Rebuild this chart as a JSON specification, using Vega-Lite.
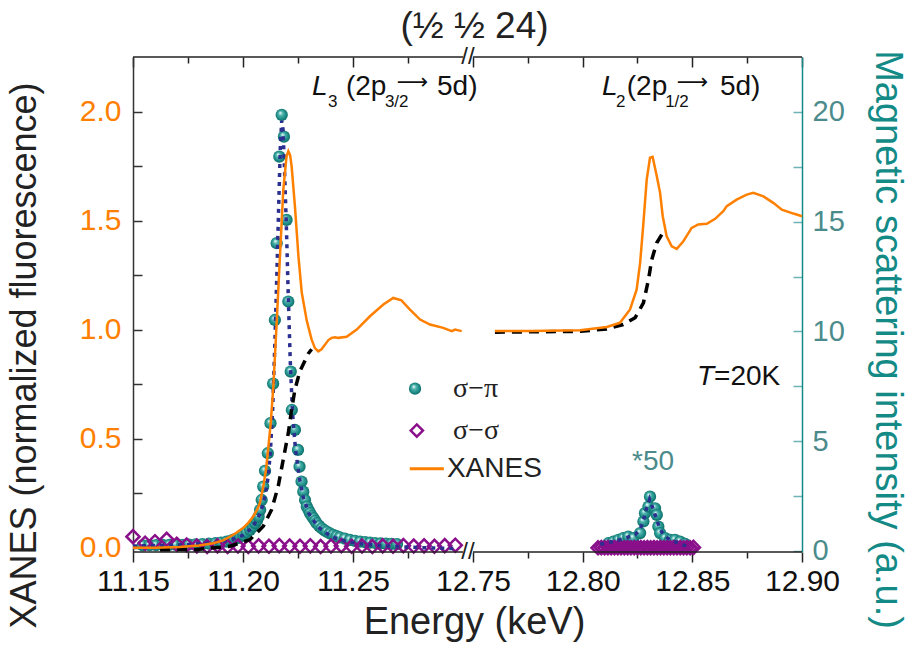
{
  "$schema": "https://vega.github.io/schema/vega-lite/v6.json",
  "width": 669,
  "height": 495,
  "autosize": {"type": "none"},
  "padding": {"left": 133, "top": 57, "right": 117, "bottom": 96},
  "background": "white",
  "config": {"view": {"stroke": null}, "font": "Liberation Sans", "axis": {"grid": false}},
  "title": {"text": "(½ ½ 24)", "fontSize": 37, "fontWeight": "normal", "color": "#222", "offset": -1, "dx": 7, "font": "Liberation Sans"},
  "datasets": {
    "xanes": [
      {"e": 11.150, "v": 0.0, "seg": "a"}, {"e": 11.160, "v": 0.0, "seg": "a"}, {"e": 11.171, "v": 0.003, "seg": "a"},
      {"e": 11.180, "v": 0.01, "seg": "a"}, {"e": 11.1865, "v": 0.02, "seg": "a"}, {"e": 11.191, "v": 0.033, "seg": "a"},
      {"e": 11.194, "v": 0.05, "seg": "a"}, {"e": 11.197, "v": 0.068, "seg": "a"}, {"e": 11.200, "v": 0.09, "seg": "a"},
      {"e": 11.2025, "v": 0.115, "seg": "a"}, {"e": 11.2047, "v": 0.144, "seg": "a"}, {"e": 11.2065, "v": 0.175, "seg": "a"},
      {"e": 11.2077, "v": 0.205, "seg": "a"}, {"e": 11.2092, "v": 0.28, "seg": "a"}, {"e": 11.2105, "v": 0.36, "seg": "a"},
      {"e": 11.2115, "v": 0.46, "seg": "a"}, {"e": 11.2126, "v": 0.57, "seg": "a"}, {"e": 11.2138, "v": 0.74, "seg": "a"},
      {"e": 11.2153, "v": 1.03, "seg": "a"}, {"e": 11.2168, "v": 1.336, "seg": "a"}, {"e": 11.2183, "v": 1.64, "seg": "a"},
      {"e": 11.2198, "v": 1.795, "seg": "a"}, {"e": 11.2206, "v": 1.818, "seg": "a"}, {"e": 11.2214, "v": 1.80, "seg": "a"},
      {"e": 11.2221, "v": 1.75, "seg": "a"}, {"e": 11.2236, "v": 1.566, "seg": "a"}, {"e": 11.2252, "v": 1.336, "seg": "a"},
      {"e": 11.2267, "v": 1.17, "seg": "a"}, {"e": 11.229, "v": 1.04, "seg": "a"}, {"e": 11.2312, "v": 0.954, "seg": "a"},
      {"e": 11.2327, "v": 0.915, "seg": "a"}, {"e": 11.2342, "v": 0.90, "seg": "a"}, {"e": 11.2357, "v": 0.91, "seg": "a"},
      {"e": 11.2373, "v": 0.931, "seg": "a"}, {"e": 11.2388, "v": 0.952, "seg": "a"}, {"e": 11.2403, "v": 0.962, "seg": "a"},
      {"e": 11.2418, "v": 0.965, "seg": "a"}, {"e": 11.2433, "v": 0.962, "seg": "a"}, {"e": 11.2471, "v": 0.967, "seg": "a"},
      {"e": 11.2517, "v": 1.0, "seg": "a"}, {"e": 11.2577, "v": 1.061, "seg": "a"}, {"e": 11.2638, "v": 1.115, "seg": "a"},
      {"e": 11.2683, "v": 1.145, "seg": "a"}, {"e": 11.272, "v": 1.134, "seg": "a"}, {"e": 11.2759, "v": 1.092, "seg": "a"},
      {"e": 11.2805, "v": 1.046, "seg": "a"}, {"e": 11.285, "v": 1.023, "seg": "a"}, {"e": 11.291, "v": 1.008, "seg": "a"},
      {"e": 11.2949, "v": 0.993, "seg": "a"}, {"e": 11.2964, "v": 1.0, "seg": "a"}, {"e": 11.2994, "v": 0.993, "seg": "a"},
      {"e": 12.760, "v": 0.993, "seg": "b"}, {"e": 12.776, "v": 0.993, "seg": "b"}, {"e": 12.7988, "v": 0.997, "seg": "b"},
      {"e": 12.811, "v": 1.012, "seg": "b"}, {"e": 12.817, "v": 1.031, "seg": "b"}, {"e": 12.8216, "v": 1.092, "seg": "b"},
      {"e": 12.8246, "v": 1.183, "seg": "b"}, {"e": 12.8262, "v": 1.306, "seg": "b"}, {"e": 12.8277, "v": 1.489, "seg": "b"},
      {"e": 12.8292, "v": 1.688, "seg": "b"}, {"e": 12.8307, "v": 1.788, "seg": "b"}, {"e": 12.8319, "v": 1.792, "seg": "b"},
      {"e": 12.8338, "v": 1.703, "seg": "b"}, {"e": 12.8353, "v": 1.627, "seg": "b"}, {"e": 12.8365, "v": 1.52, "seg": "b"},
      {"e": 12.8383, "v": 1.428, "seg": "b"}, {"e": 12.8406, "v": 1.382, "seg": "b"}, {"e": 12.8429, "v": 1.37, "seg": "b"},
      {"e": 12.8459, "v": 1.405, "seg": "b"}, {"e": 12.8497, "v": 1.466, "seg": "b"}, {"e": 12.8527, "v": 1.482, "seg": "b"},
      {"e": 12.8566, "v": 1.485, "seg": "b"}, {"e": 12.8604, "v": 1.508, "seg": "b"}, {"e": 12.8641, "v": 1.543, "seg": "b"},
      {"e": 12.8657, "v": 1.566, "seg": "b"}, {"e": 12.8702, "v": 1.596, "seg": "b"}, {"e": 12.8748, "v": 1.619, "seg": "b"},
      {"e": 12.8778, "v": 1.627, "seg": "b"}, {"e": 12.8824, "v": 1.611, "seg": "b"}, {"e": 12.8869, "v": 1.581, "seg": "b"},
      {"e": 12.8908, "v": 1.55, "seg": "b"}, {"e": 12.8961, "v": 1.532, "seg": "b"}, {"e": 12.900, "v": 1.52, "seg": "b"}
    ],
    "step": [
      {"e": 11.1623, "v": -0.01, "seg": "a"}, {"e": 11.179, "v": -0.008, "seg": "a"}, {"e": 11.194, "v": 0.006, "seg": "a"},
      {"e": 11.2032, "v": 0.037, "seg": "a"}, {"e": 11.2092, "v": 0.098, "seg": "a"}, {"e": 11.213, "v": 0.174, "seg": "a"},
      {"e": 11.216, "v": 0.281, "seg": "a"}, {"e": 11.2183, "v": 0.404, "seg": "a"}, {"e": 11.2206, "v": 0.526, "seg": "a"},
      {"e": 11.2221, "v": 0.633, "seg": "a"}, {"e": 11.2236, "v": 0.725, "seg": "a"}, {"e": 11.2259, "v": 0.81, "seg": "a"},
      {"e": 11.2297, "v": 0.89, "seg": "a"}, {"e": 11.2312, "v": 0.91, "seg": "a"},
      {"e": 12.760, "v": 0.988, "seg": "b"}, {"e": 12.780, "v": 0.99, "seg": "b"}, {"e": 12.799, "v": 0.992, "seg": "b"},
      {"e": 12.811, "v": 1.003, "seg": "b"}, {"e": 12.8185, "v": 1.023, "seg": "b"}, {"e": 12.8239, "v": 1.054, "seg": "b"},
      {"e": 12.8277, "v": 1.122, "seg": "b"}, {"e": 12.830, "v": 1.229, "seg": "b"}, {"e": 12.8315, "v": 1.321, "seg": "b"},
      {"e": 12.8338, "v": 1.398, "seg": "b"}, {"e": 12.8376, "v": 1.462, "seg": "b"}
    ],
    "fit": [
      {"e": 11.150, "v": 0.22, "seg": "a"}, {"e": 11.170, "v": 0.27, "seg": "a"}, {"e": 11.185, "v": 0.35, "seg": "a"},
      {"e": 11.195, "v": 0.52, "seg": "a"}, {"e": 11.200, "v": 0.72, "seg": "a"}, {"e": 11.2035, "v": 1.0, "seg": "a"},
      {"e": 11.206, "v": 1.35, "seg": "a"}, {"e": 11.208, "v": 1.75, "seg": "a"}, {"e": 11.210, "v": 2.5, "seg": "a"},
      {"e": 11.2115, "v": 3.4, "seg": "a"}, {"e": 11.2125, "v": 4.6, "seg": "a"}, {"e": 11.2135, "v": 6.5, "seg": "a"},
      {"e": 11.2145, "v": 9.5, "seg": "a"}, {"e": 11.2155, "v": 13.0, "seg": "a"}, {"e": 11.2163, "v": 16.0, "seg": "a"},
      {"e": 11.2170, "v": 18.5, "seg": "a"}, {"e": 11.2176, "v": 19.6, "seg": "a"}, {"e": 11.2182, "v": 19.2, "seg": "a"},
      {"e": 11.2190, "v": 17.0, "seg": "a"}, {"e": 11.2198, "v": 14.5, "seg": "a"}, {"e": 11.2206, "v": 11.5, "seg": "a"},
      {"e": 11.2215, "v": 8.6, "seg": "a"}, {"e": 11.2225, "v": 6.3, "seg": "a"}, {"e": 11.2238, "v": 4.7, "seg": "a"},
      {"e": 11.2255, "v": 3.4, "seg": "a"}, {"e": 11.2275, "v": 2.4, "seg": "a"}, {"e": 11.230, "v": 1.7, "seg": "a"},
      {"e": 11.234, "v": 1.1, "seg": "a"}, {"e": 11.240, "v": 0.65, "seg": "a"}, {"e": 11.248, "v": 0.4, "seg": "a"},
      {"e": 11.260, "v": 0.25, "seg": "a"}, {"e": 11.275, "v": 0.17, "seg": "a"}, {"e": 11.290, "v": 0.12, "seg": "a"},
      {"e": 11.297, "v": 0.1, "seg": "a"},
      {"e": 12.808, "v": 0.3, "seg": "b"}, {"e": 12.815, "v": 0.45, "seg": "b"}, {"e": 12.820, "v": 0.6, "seg": "b"},
      {"e": 12.824, "v": 0.75, "seg": "b"}, {"e": 12.826, "v": 0.95, "seg": "b"}, {"e": 12.8275, "v": 1.3, "seg": "b"},
      {"e": 12.829, "v": 1.9, "seg": "b"}, {"e": 12.8305, "v": 2.35, "seg": "b"}, {"e": 12.832, "v": 1.95, "seg": "b"},
      {"e": 12.8335, "v": 1.5, "seg": "b"}, {"e": 12.835, "v": 1.05, "seg": "b"}, {"e": 12.837, "v": 0.7, "seg": "b"},
      {"e": 12.840, "v": 0.5, "seg": "b"}, {"e": 12.845, "v": 0.3, "seg": "b"}, {"e": 12.848, "v": 0.2, "seg": "b"}
    ],
    "sp": [
      {"e": 11.1545, "v": 0.25}, {"e": 11.1575, "v": 0.26}, {"e": 11.1605, "v": 0.26}, {"e": 11.1635, "v": 0.27},
      {"e": 11.1665, "v": 0.27}, {"e": 11.1695, "v": 0.27}, {"e": 11.1725, "v": 0.28}, {"e": 11.1755, "v": 0.29},
      {"e": 11.1785, "v": 0.30}, {"e": 11.1815, "v": 0.31}, {"e": 11.1845, "v": 0.33}, {"e": 11.1875, "v": 0.35},
      {"e": 11.1900, "v": 0.38}, {"e": 11.1925, "v": 0.42}, {"e": 11.1945, "v": 0.47}, {"e": 11.1960, "v": 0.53},
      {"e": 11.1975, "v": 0.58}, {"e": 11.1988, "v": 0.65}, {"e": 11.2001, "v": 0.73}, {"e": 11.2016, "v": 0.84},
      {"e": 11.2032, "v": 0.96}, {"e": 11.2045, "v": 1.10}, {"e": 11.2055, "v": 1.26}, {"e": 11.2064, "v": 1.40},
      {"e": 11.2071, "v": 1.56}, {"e": 11.2078, "v": 1.87}, {"e": 11.2085, "v": 2.32}, {"e": 11.2092, "v": 2.93},
      {"e": 11.2100, "v": 3.65}, {"e": 11.2113, "v": 4.45}, {"e": 11.2125, "v": 5.82}, {"e": 11.2137, "v": 7.62},
      {"e": 11.2145, "v": 10.52}, {"e": 11.2153, "v": 14.02}, {"e": 11.2165, "v": 17.96}, {"e": 11.2176, "v": 19.86},
      {"e": 11.2186, "v": 18.87}, {"e": 11.2198, "v": 15.08}, {"e": 11.2206, "v": 11.36}, {"e": 11.2217, "v": 8.17},
      {"e": 11.2222, "v": 6.42}, {"e": 11.2236, "v": 5.51}, {"e": 11.2250, "v": 4.60}, {"e": 11.2257, "v": 3.84},
      {"e": 11.2266, "v": 3.16}, {"e": 11.2274, "v": 2.70}, {"e": 11.2282, "v": 2.32}, {"e": 11.2290, "v": 2.02},
      {"e": 11.2298, "v": 1.86}, {"e": 11.2305, "v": 1.72}, {"e": 11.2312, "v": 1.60}, {"e": 11.2320, "v": 1.49},
      {"e": 11.2328, "v": 1.37}, {"e": 11.2335, "v": 1.26}, {"e": 11.2346, "v": 1.14}, {"e": 11.2358, "v": 1.03},
      {"e": 11.2369, "v": 0.95}, {"e": 11.2380, "v": 0.88}, {"e": 11.2395, "v": 0.80}, {"e": 11.2410, "v": 0.73},
      {"e": 11.2425, "v": 0.67}, {"e": 11.2440, "v": 0.62}, {"e": 11.2463, "v": 0.56}, {"e": 11.2486, "v": 0.50},
      {"e": 11.2509, "v": 0.46}, {"e": 11.2532, "v": 0.42}, {"e": 11.2555, "v": 0.40}, {"e": 11.2577, "v": 0.38},
      {"e": 11.2600, "v": 0.36}, {"e": 11.2625, "v": 0.34}, {"e": 11.2650, "v": 0.33}, {"e": 11.2675, "v": 0.32},
      {"e": 11.2700, "v": 0.31},
      {"e": 12.8117, "v": 0.35}, {"e": 12.8140, "v": 0.42}, {"e": 12.8163, "v": 0.50}, {"e": 12.8185, "v": 0.58},
      {"e": 12.8208, "v": 0.65}, {"e": 12.8231, "v": 0.58}, {"e": 12.8262, "v": 0.81}, {"e": 12.8277, "v": 1.34},
      {"e": 12.8284, "v": 1.72}, {"e": 12.8300, "v": 2.02}, {"e": 12.8307, "v": 2.47}, {"e": 12.8330, "v": 1.94},
      {"e": 12.8338, "v": 1.64}, {"e": 12.8345, "v": 1.11}, {"e": 12.8353, "v": 0.81}, {"e": 12.8376, "v": 0.58},
      {"e": 12.8398, "v": 0.50}, {"e": 12.8421, "v": 0.50}, {"e": 12.8444, "v": 0.42}, {"e": 12.8467, "v": 0.32}
    ],
    "ss": [
      {"e": 11.1500, "v": 0.65}, {"e": 11.1555, "v": 0.35}, {"e": 11.1600, "v": 0.42}, {"e": 11.1653, "v": 0.53},
      {"e": 11.1699, "v": 0.30}, {"e": 11.1744, "v": 0.27}, {"e": 11.1790, "v": 0.22}, {"e": 11.1837, "v": 0.20},
      {"e": 11.1884, "v": 0.23}, {"e": 11.1930, "v": 0.20}, {"e": 11.1977, "v": 0.22}, {"e": 11.2024, "v": 0.20},
      {"e": 11.2071, "v": 0.23}, {"e": 11.2118, "v": 0.21}, {"e": 11.2165, "v": 0.24}, {"e": 11.2212, "v": 0.22},
      {"e": 11.2259, "v": 0.21}, {"e": 11.2306, "v": 0.23}, {"e": 11.2353, "v": 0.20}, {"e": 11.2400, "v": 0.22},
      {"e": 11.2447, "v": 0.24}, {"e": 11.2494, "v": 0.21}, {"e": 11.2541, "v": 0.22}, {"e": 11.2588, "v": 0.20},
      {"e": 11.2635, "v": 0.23}, {"e": 11.2682, "v": 0.21}, {"e": 11.2729, "v": 0.24}, {"e": 11.2776, "v": 0.22},
      {"e": 11.2823, "v": 0.23}, {"e": 11.2870, "v": 0.21}, {"e": 11.2917, "v": 0.24}, {"e": 11.2965, "v": 0.26},
      {"e": 12.8070, "v": 0.14}, {"e": 12.8085, "v": 0.15}, {"e": 12.8100, "v": 0.14}, {"e": 12.8115, "v": 0.15},
      {"e": 12.8130, "v": 0.14}, {"e": 12.8145, "v": 0.15}, {"e": 12.8160, "v": 0.14}, {"e": 12.8175, "v": 0.15},
      {"e": 12.8190, "v": 0.14}, {"e": 12.8205, "v": 0.15}, {"e": 12.8220, "v": 0.14}, {"e": 12.8235, "v": 0.15},
      {"e": 12.8250, "v": 0.14}, {"e": 12.8265, "v": 0.15}, {"e": 12.8280, "v": 0.14}, {"e": 12.8295, "v": 0.15},
      {"e": 12.8310, "v": 0.14}, {"e": 12.8325, "v": 0.15}, {"e": 12.8340, "v": 0.14}, {"e": 12.8355, "v": 0.15},
      {"e": 12.8370, "v": 0.14}, {"e": 12.8385, "v": 0.15}, {"e": 12.8400, "v": 0.14}, {"e": 12.8415, "v": 0.15},
      {"e": 12.8430, "v": 0.14}, {"e": 12.8445, "v": 0.15}, {"e": 12.8460, "v": 0.14}, {"e": 12.8475, "v": 0.15},
      {"e": 12.8490, "v": 0.14}, {"e": 12.8505, "v": 0.16}
    ],
    "frame": [
      {"e": 11.15, "e2": 11.30, "v": -0.02}, {"e": 12.75, "e2": 12.90, "v": -0.02},
      {"e": 11.15, "e2": 11.30, "v": 2.25}, {"e": 12.75, "e2": 12.90, "v": 2.25}
    ],
    "brk": [{"e": 12.025, "v": -0.02, "t": "//"}, {"e": 12.025, "v": 2.25, "t": "//"}],
    "annMain": [
      {"e": 11.2468, "v": 2.078, "t": "(2p"}, {"e": 11.2882, "v": 2.078, "t": "5d)"},
      {"e": 12.8201, "v": 2.078, "t": "(2p"}, {"e": 12.8626, "v": 2.078, "t": "5d)"},
      {"e": 12.8599, "v": 0.748, "t": "=20K"}
    ],
    "annItalic": [
      {"e": 11.2314, "v": 2.078, "t": "L"}, {"e": 12.8088, "v": 2.078, "t": "L"}, {"e": 12.8521, "v": 0.748, "t": "T"}
    ],
    "annSub": [
      {"e": 11.2386, "v": 2.020, "t": "3"}, {"e": 11.2645, "v": 2.020, "t": "3/2"},
      {"e": 12.8152, "v": 2.020, "t": "2"}, {"e": 12.8376, "v": 2.020, "t": "1/2"}
    ],
    "annArrow": [{"e": 11.2770, "v": 2.135, "t": "⟶"}, {"e": 12.8501, "v": 2.135, "t": "⟶"}],
    "annTeal": [{"e": 12.8321, "v": 0.358, "t": "*50"}],
    "legSphere": [{"e": 11.2782, "v": 0.729}],
    "legDiamond": [{"e": 11.2790, "v": 0.537}],
    "legLine": [{"e": 11.2758, "e2": 11.2913, "v": 0.362}],
    "legGreek": [{"e": 11.2955, "v": 0.729, "t": "σ−π"}, {"e": 11.2955, "v": 0.537, "t": "σ−σ"}],
    "legSans": [{"e": 11.2927, "v": 0.362, "t": "XANES"}]
  },
  "layer": [
    {
      "encoding": {
        "x": {
          "field": "e", "type": "quantitative",
          "scale": {"type": "linear", "domain": [11.15, 11.30, 12.75, 12.90], "range": [0, 330, 340, 669], "nice": false, "zero": false},
          "axis": {
            "orient": "top", "values": [11.15, 11.175, 11.2, 11.225, 11.25, 11.275, 12.75, 12.775, 12.8, 12.825, 12.85, 12.875, 12.9],
            "labels": false, "title": null, "domain": false, "tickColor": "#222", "tickWidth": 1.5,
            "tickSize": {"condition": {"test": "round(datum.value*1000) % 50 == 0", "value": -10}, "value": -6}
          }
        },
        "y": {
          "field": "v", "type": "quantitative",
          "scale": {"domain": [-0.05, 22.5], "nice": false, "zero": false},
          "axis": {
            "orient": "right", "values": [0, 2.5, 5, 7.5, 10, 12.5, 15, 17.5, 20],
            "labelExpr": "datum.value % 5 == 0 ? datum.label : ''",
            "labelFontSize": 29, "labelColor": "#4b8b8b", "labelPadding": 19, "labelFlush": false, "labelOverlap": false,
            "tickSize": -9, "tickColor": "#6db3b3", "tickWidth": 1.5,
            "domainColor": "#138a86", "domainWidth": 1.5,
            "title": "Magnetic scattering intensity (a.u.)", "titleFontSize": 38, "titleFontWeight": "normal",
            "titleColor": "#138a86", "titleX": 84, "titleY": 282, "titleBaseline": "middle"
          }
        }
      },
      "layer": [
        {
          "data": {"name": "sp"},
          "mark": {
            "type": "point", "shape": "circle", "filled": true, "size": 150, "opacity": 1, "strokeWidth": 0,
            "fill": {"gradient": "radial", "x1": 0.38, "y1": 0.32, "r1": 0.02, "x2": 0.5, "y2": 0.5, "r2": 0.55,
              "stops": [{"offset": 0, "color": "#f2ffff"}, {"offset": 0.3, "color": "#4fb3ad"}, {"offset": 0.75, "color": "#16857f"}, {"offset": 1, "color": "#0d625e"}]}
          }
        },
        {
          "data": {"name": "ss"},
          "mark": {"type": "point", "shape": "diamond", "filled": false, "stroke": "#8a0f8a", "strokeWidth": 2.5, "size": 170, "opacity": 1}
        },
        {
          "data": {"name": "fit"},
          "mark": {"type": "line", "color": "#2b2f8f", "strokeWidth": 3.5, "strokeDash": [4, 5]},
          "encoding": {"detail": {"field": "seg"}}
        }
      ]
    },
    {
      "encoding": {
        "x": {
          "field": "e", "type": "quantitative",
          "scale": {"type": "linear", "domain": [11.15, 11.30, 12.75, 12.90], "range": [0, 330, 340, 669], "nice": false, "zero": false},
          "axis": {
            "orient": "bottom", "values": [11.15, 11.175, 11.2, 11.225, 11.25, 11.275, 12.75, 12.775, 12.8, 12.825, 12.85, 12.875, 12.9],
            "format": ".2f", "labelExpr": "round(datum.value*1000) % 50 == 0 ? datum.label : ''",
            "labelFontSize": 30, "labelColor": "#111", "labelPadding": 4, "labelFlush": false, "labelOverlap": false,
            "tickColor": "#222", "tickWidth": 1.5,
            "tickSize": {"condition": {"test": "round(datum.value*1000) % 50 == 0", "value": 10}, "value": 6},
            "domain": false,
            "title": "Energy (keV)", "titleFontSize": 38, "titleFontWeight": "normal", "titleColor": "#222",
            "titleX": 341, "titleY": 70, "titleBaseline": "middle"
          }
        },
        "y": {
          "field": "v", "type": "quantitative",
          "scale": {"domain": [-0.02, 2.25], "nice": false, "zero": false},
          "axis": {
            "orient": "left", "values": [0, 0.25, 0.5, 0.75, 1, 1.25, 1.5, 1.75, 2],
            "format": ".1f", "labelExpr": "round(datum.value*100) % 50 == 0 ? datum.label : ''",
            "labelFontSize": 30, "labelColor": "#ff8000", "labelPadding": 21, "labelFlush": false, "labelOverlap": false,
            "tickSize": -9, "tickColor": "#333", "tickWidth": 1.5, "domainColor": "#333", "domainWidth": 1.5,
            "title": "XANES (normalized fluorescence)", "titleFontSize": 36, "titleFontWeight": "normal", "titleColor": "#222",
            "titleX": -109, "titleY": 298, "titleBaseline": "middle"
          }
        }
      },
      "layer": [
        {"data": {"name": "frame"}, "mark": {"type": "rule", "color": "#222", "strokeWidth": 1.5}, "encoding": {"x2": {"field": "e2"}}},
        {"data": {"name": "brk"}, "mark": {"type": "text", "fontSize": 24, "color": "#222", "align": "center", "baseline": "middle"}, "encoding": {"text": {"field": "t"}}},
        {
          "data": {"name": "step"},
          "mark": {"type": "line", "color": "#000", "strokeWidth": 3.5, "strokeDash": [10, 7]},
          "encoding": {"detail": {"field": "seg"}}
        },
        {
          "data": {"name": "xanes"},
          "mark": {"type": "line", "color": "#ff8000", "strokeWidth": 2.5},
          "encoding": {"detail": {"field": "seg"}}
        },
        {
          "data": {"name": "legSphere"},
          "mark": {
            "type": "point", "shape": "circle", "filled": true, "size": 150, "opacity": 1, "strokeWidth": 0,
            "fill": {"gradient": "radial", "x1": 0.38, "y1": 0.32, "r1": 0.02, "x2": 0.5, "y2": 0.5, "r2": 0.55,
              "stops": [{"offset": 0, "color": "#f2ffff"}, {"offset": 0.3, "color": "#4fb3ad"}, {"offset": 0.75, "color": "#16857f"}, {"offset": 1, "color": "#0d625e"}]}
          }
        },
        {"data": {"name": "legDiamond"}, "mark": {"type": "point", "shape": "diamond", "filled": false, "stroke": "#8a0f8a", "strokeWidth": 2.5, "size": 150, "opacity": 1}},
        {"data": {"name": "legLine"}, "mark": {"type": "rule", "color": "#ff8000", "strokeWidth": 3}, "encoding": {"x2": {"field": "e2"}}},
        {"data": {"name": "legGreek"}, "mark": {"type": "text", "font": "Liberation Serif", "fontSize": 28, "color": "#222", "align": "left", "baseline": "middle"}, "encoding": {"text": {"field": "t"}}},
        {"data": {"name": "legSans"}, "mark": {"type": "text", "fontSize": 28, "color": "#222", "align": "left", "baseline": "middle"}, "encoding": {"text": {"field": "t"}}},
        {"data": {"name": "annMain"}, "mark": {"type": "text", "fontSize": 28, "color": "#111", "align": "left", "baseline": "alphabetic"}, "encoding": {"text": {"field": "t"}}},
        {"data": {"name": "annItalic"}, "mark": {"type": "text", "fontSize": 28, "fontStyle": "italic", "color": "#111", "align": "left", "baseline": "alphabetic"}, "encoding": {"text": {"field": "t"}}},
        {"data": {"name": "annSub"}, "mark": {"type": "text", "fontSize": 17, "color": "#111", "align": "left", "baseline": "alphabetic"}, "encoding": {"text": {"field": "t"}}},
        {"data": {"name": "annArrow"}, "mark": {"type": "text", "font": "DejaVu Sans", "fontSize": 22, "color": "#111", "align": "center", "baseline": "middle"}, "encoding": {"text": {"field": "t"}}},
        {"data": {"name": "annTeal"}, "mark": {"type": "text", "fontSize": 28, "color": "#4b8b8b", "align": "center", "baseline": "alphabetic"}, "encoding": {"text": {"field": "t"}}}
      ]
    }
  ],
  "resolve": {"scale": {"y": "independent"}, "axis": {"x": "independent", "y": "independent"}}
}
